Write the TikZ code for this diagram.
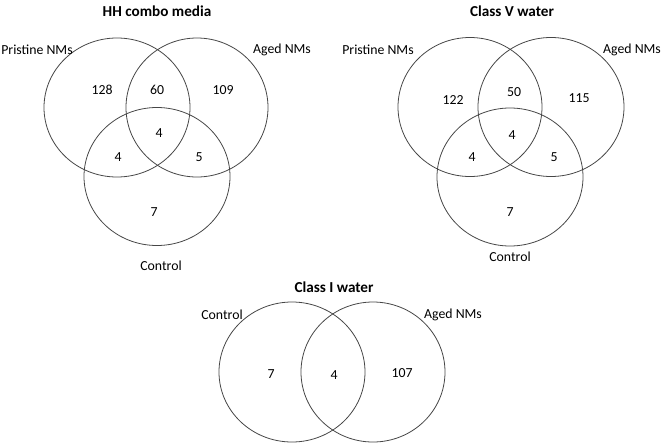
\documentclass[tikz,border=0pt]{standalone}
\usepackage{fontspec}
\setmainfont{Carlito}
\usepackage{tikz}
\usetikzlibrary{positioning}
\definecolor{venngray}{RGB}{70,70,70}

\begin{document}
\begin{tikzpicture}[x=1pt,y=-1pt,font=\fontsize{13.8}{15}\selectfont,
    venn/.style={draw=venngray,line width=0.8pt},
    ttl/.style={font=\fontsize{15.2}{17}\selectfont\bfseries},
    lbl/.style={inner sep=1pt},
    num/.style={inner sep=1pt}]
    \useasboundingbox (0,0) rectangle (661,445);
    % HH combo media
    \node[ttl] (hhtitle) at (157,11) {HH combo media};
    \draw[venn] (117,107.5) ellipse (73 and 69.5);
    \draw[venn] (197,107.5) ellipse (71 and 69.5);
    \draw[venn] (157,176.5) ellipse (73 and 69);
    \node[lbl] (hhpri) at (37,50) {Pristine NMs};
    \node[lbl] (hhage) at (282,50) {Aged NMs};
    \node[lbl] (hhctl) at (161,266) {Control};
    \node[num] (hhp) at (102,90) {128};
    \node[num] (hhpa) at (157,90) {60};
    \node[num] (hha) at (223,90) {109};
    \node[num] (hhall) at (159,133) {4};
    \node[num] (hhpc) at (118,157) {4};
    \node[num] (hhac) at (199,157) {5};
    \node[num] (hhc) at (154,212) {7};
    % Class V water
    \node[ttl] (vtitle) at (512,11) {Class V water};
    \draw[venn] (470,107) ellipse (72 and 69.5);
    \draw[venn] (551,107) ellipse (73 and 69.5);
    \draw[venn] (510,177) ellipse (73 and 69);
    \node[lbl] (vpri) at (378,50) {Pristine NMs};
    \node[lbl] (vage) at (632,50) {Aged NMs};
    \node[lbl] (vctl) at (510,257) {Control};
    \node[num] (vp) at (453,100) {122};
    \node[num] (vpa) at (514,92) {50};
    \node[num] (va) at (579,98) {115};
    \node[num] (vall) at (512,135) {4};
    \node[num] (vpc) at (472,157) {4};
    \node[num] (vac) at (554,157) {5};
    \node[num] (vc) at (510,212) {7};
    % Class I water
    \node[ttl] (ititle) at (334,287) {Class I water};
    \draw[venn] (292,372) ellipse (73 and 70);
    \draw[venn] (373,372) ellipse (72 and 70);
    \node[lbl] (ictl) at (222,315) {Control};
    \node[lbl] (iage) at (453,315) {Aged NMs};
    \node[num] (ic) at (271,374) {7};
    \node[num] (ica) at (334,375) {4};
    \node[num] (ia) at (402,373) {107};
\end{tikzpicture}
\end{document}
